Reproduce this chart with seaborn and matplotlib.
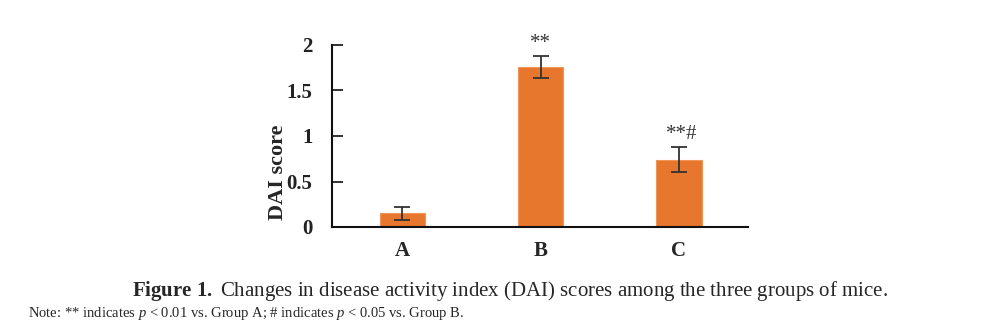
import matplotlib
matplotlib.use("Agg")
import matplotlib.pyplot as plt
import seaborn as sns
import pandas as pd

groups = ["A", "B", "C"]
dai_mean = [0.15, 1.76, 0.74]
dai_err = [0.07, 0.12, 0.14]
sig_labels = ["", "**", "**#"]
yticks = [0, 0.5, 1, 1.5, 2]
ytick_labels = ["0", "0.5", "1", "1.5", "2"]

sns.set_theme(style="white")
plt.rcParams["font.family"] = ["Liberation Serif", "DejaVu Serif"]
plt.rcParams["mathtext.fontset"] = "custom"
plt.rcParams["mathtext.rm"] = "Liberation Serif"
plt.rcParams["mathtext.it"] = "Liberation Serif:italic"
plt.rcParams["mathtext.bf"] = "Liberation Serif:bold"

df = pd.DataFrame({"group": groups, "dai": dai_mean})

fig = plt.figure(figsize=(9.9, 3.32), dpi=100)
ax = fig.add_axes([332/990, (332-227)/332, (748-332)/990, (227-45)/332])

bar_color = "#E8772E"
sns.barplot(data=df, x="group", y="dai", ax=ax, color=bar_color, width=0.33,
            errorbar=None, saturation=1, edgecolor="#F0955A", linewidth=0.8)
ax.errorbar(range(len(groups)), dai_mean, yerr=dai_err, fmt="none",
            ecolor="#333333", elinewidth=1.3, capsize=6, capthick=1.3)

for i, (m, e, s) in enumerate(zip(dai_mean, dai_err, sig_labels)):
    if s:
        ax.text(i + (0.02 if len(s) > 2 else 0), m + e + 0.03, s, ha="center", va="bottom",
                fontsize=15, color="#333333")

ax.set_xlim(-0.51, 2.5)
ax.set_ylim(0, 2)
ax.set_yticks(yticks)
ax.set_yticklabels(ytick_labels, fontsize=15, fontweight="bold")
ax.set_xlabel("")
ax.set_ylabel("DAI score", fontsize=16, fontweight="bold")
ax.yaxis.set_label_coords(-0.105, 0.30)
ax.tick_params(axis="y", direction="in", length=8, width=1.3, pad=14, left=True, colors="#222222")
ax.tick_params(axis="x", length=0, pad=10, labelsize=15)
for lab in ax.get_xticklabels():
    lab.set_fontweight("bold")
for sp in ["top", "right"]:
    ax.spines[sp].set_visible(False)
for sp in ["left", "bottom"]:
    ax.spines[sp].set_color("#111111")
    ax.spines[sp].set_linewidth(1.5)

fig.text(510/990, 1 - 291/332, r"$\mathbf{Figure\ 1.}$ Changes in disease activity index (DAI) scores among the three groups of mice.",
         ha="center", va="center", fontsize=15)
fig.text(28/990, 1 - 313/332, "Note: ** indicates $p$ < 0.01 vs. Group A; # indicates $p$ < 0.05 vs. Group B.",
         ha="left", va="center", fontsize=10.5)

fig.savefig("out.png", dpi=100)
